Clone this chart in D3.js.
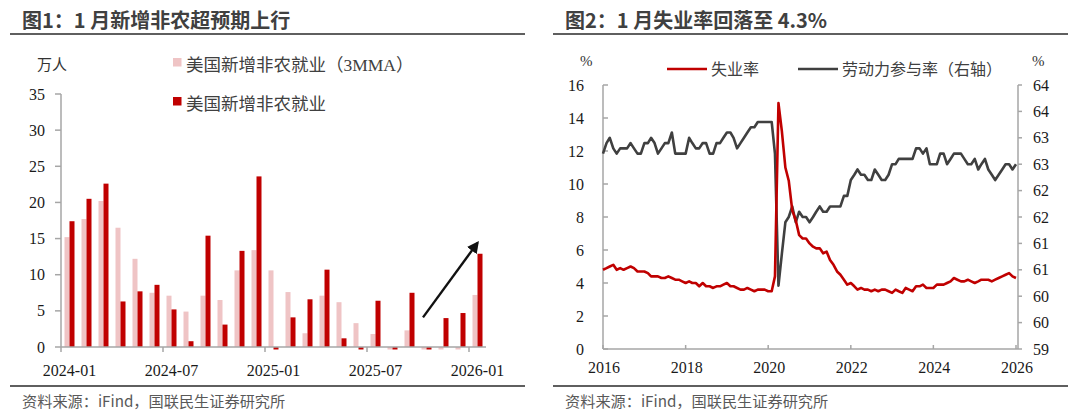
<!DOCTYPE html>
<html>
<head>
<meta charset="utf-8">
<script src="https://cdn.jsdelivr.net/npm/d3@7"></script>
<style>
  body { margin: 0; background: #fff; }
  svg text { font-family: "Liberation Serif", "Noto Sans CJK SC", serif; }
  .ttl { font-family: "Noto Sans CJK SC", sans-serif !important; font-weight: bold; font-size: 20px; fill: #404040; }
  .src { font-family: "Noto Sans CJK SC", sans-serif !important; font-size: 15.2px; fill: #595959; }
</style>
</head>
<body>
<svg id="chart" width="1080" height="417"></svg>
<script>
// ---- data: left chart (万人) ----
var months1 = ["2024-01","2024-02","2024-03","2024-04","2024-05","2024-06","2024-07","2024-08","2024-09","2024-10","2024-11","2024-12",
               "2025-01","2025-02","2025-03","2025-04","2025-05","2025-06","2025-07","2025-08","2025-09","2025-10","2025-11","2025-12","2026-01"];
var nfp    = [17.4,20.5,22.6,6.3,7.7,8.6,5.2,0.8,15.4,3.1,13.3,23.6,-4.9,4.1,6.6,10.7,1.2,-1.3,6.4,-7.0,7.5,-17.3,4.0,4.7,12.9];
var nfp3m  = [15.2,17.7,20.2,16.5,12.2,7.5,7.1,4.9,7.1,6.5,10.6,13.4,10.6,7.6,1.9,7.1,6.2,3.3,1.8,-0.6,2.3,-3.2,-1.9,-2.9,7.2];
var xLabels1 = ["2024-01","2024-07","2025-01","2025-07","2026-01"];
var yTicks1 = [0,5,10,15,20,25,30,35];

// ---- data: right chart (%) ----
var unrate = [
  4.8,4.9,5.0,5.1,4.8,4.9,4.8,4.9,5.0,4.9,4.7,4.7,
  4.7,4.6,4.4,4.4,4.4,4.3,4.3,4.4,4.3,4.2,4.2,4.1,
  4.0,4.1,4.0,4.0,3.8,4.0,3.8,3.8,3.7,3.8,3.8,3.9,
  4.0,3.8,3.8,3.7,3.6,3.6,3.7,3.6,3.5,3.6,3.6,3.6,
  3.5,3.5,4.4,14.9,13.2,11.0,10.2,8.4,7.8,6.9,6.7,6.7,
  6.4,6.2,6.1,6.1,5.8,5.9,5.4,5.1,4.7,4.5,4.2,3.9,
  4.0,3.8,3.6,3.7,3.6,3.6,3.5,3.6,3.5,3.6,3.6,3.5,
  3.4,3.6,3.5,3.4,3.7,3.6,3.5,3.8,3.8,3.9,3.7,3.7,
  3.7,3.9,3.9,3.9,4.0,4.1,4.3,4.2,4.1,4.1,4.2,4.1,
  4.0,4.1,4.2,4.2,4.2,4.1,4.2,4.3,4.4,4.5,4.6,4.4,
  4.3];
var lfpr = [
  62.7,62.9,63.0,62.8,62.7,62.8,62.8,62.8,62.9,62.8,62.7,62.7,
  62.9,62.9,63.0,62.9,62.7,62.8,62.9,62.9,63.1,62.7,62.7,62.7,
  62.7,63.0,62.9,62.8,62.8,62.9,62.9,62.7,62.7,62.9,62.9,63.0,
  63.1,63.1,63.0,62.8,62.9,63.0,63.1,63.2,63.2,63.3,63.3,63.3,
  63.3,63.3,62.7,60.2,60.8,61.4,61.5,61.7,61.4,61.6,61.5,61.5,
  61.4,61.5,61.6,61.7,61.6,61.6,61.7,61.7,61.7,61.7,61.9,61.9,
  62.2,62.3,62.4,62.3,62.3,62.2,62.2,62.4,62.3,62.2,62.2,62.3,
  62.5,62.5,62.6,62.6,62.6,62.6,62.6,62.8,62.8,62.7,62.8,62.5,
  62.5,62.5,62.7,62.7,62.5,62.6,62.7,62.7,62.7,62.6,62.5,62.5,
  62.6,62.4,62.5,62.6,62.4,62.3,62.2,62.3,62.4,62.5,62.5,62.4,
  62.5];
var yTicksL = [0,2,4,6,8,10,12,14,16];
var yTicksR = [59,59.5,60,60.5,61,61.5,62,62.5,63,63.5,64];
var xYears2 = [2016,2018,2020,2022,2024,2026];

var red = "#c00000", pink = "#efc4c5", axisGray = "#a6a6a6", lineGray = "#404040";
var svg = d3.select("svg#chart");

// headers + footers
function frame(x0, x1, title) {
  svg.append("text").attr("class","ttl").attr("x", x0 + 12).attr("y", 28).text(title);
  svg.append("line").attr("x1", x0).attr("x2", x1).attr("y1", 34).attr("y2", 34)
     .attr("stroke", "#5f5f5f").attr("stroke-width", 2.2);
  svg.append("line").attr("x1", x0).attr("x2", x1).attr("y1", 386).attr("y2", 386)
     .attr("stroke", "#5f5f5f").attr("stroke-width", 2.2);
  svg.append("text").attr("class","src").attr("x", x0 + 12).attr("y", 407).text("资料来源：iFind，国联民生证券研究所");
}
frame(10, 525, "图1：1 月新增非农超预期上行");
frame(553, 1068, "图2：1 月失业率回落至 4.3%");

// ================= left chart =================
var x1 = d3.scaleBand().domain(months1).range([61, 486]).paddingInner(0).paddingOuter(0);
var sub = d3.scaleBand().domain(["p","r"]).range([3.5, 13.5]);
var y1 = d3.scaleLinear().domain([0, 35]).range([347, 94]);

svg.append("clipPath").attr("id","clipL").append("rect")
   .attr("x", 61).attr("y", 94).attr("width", 425).attr("height", 347 - 94 + 2.5);

var gBars = svg.append("g").attr("clip-path","url(#clipL)");
function bars(vals, key, color) {
  gBars.selectAll("rect." + key).data(vals).enter().append("rect")
    .attr("class", key)
    .attr("x", (d, i) => x1(months1[i]) + sub(key))
    .attr("width", sub.bandwidth())
    .attr("y", d => y1(Math.max(d, 0)))
    .attr("height", d => Math.abs(y1(d) - y1(0)))
    .attr("fill", color);
}
bars(nfp3m, "p", pink);
bars(nfp, "r", red);

// axes
svg.append("line").attr("x1", 61).attr("x2", 61).attr("y1", y1(35)).attr("y2", y1(0)).attr("stroke", axisGray).attr("stroke-width", 1.5);
svg.append("line").attr("x1", 61).attr("x2", 486).attr("y1", y1(0)).attr("y2", y1(0)).attr("stroke", axisGray).attr("stroke-width", 1.5);
yTicks1.forEach(t => {
  svg.append("line").attr("x1", 55).attr("x2", 61).attr("y1", y1(t)).attr("y2", y1(t)).attr("stroke", axisGray).attr("stroke-width", 1.5);
  svg.append("text").attr("x", 45).attr("y", y1(t) + 5.5).attr("text-anchor","end")
     .attr("font-size", 16).attr("fill", "#1a1a1a").text(t);
});
xLabels1.forEach(m => {
  var xs = x1(m);
  svg.append("line").attr("x1", xs).attr("x2", xs).attr("y1", y1(0)).attr("y2", y1(0) + 5).attr("stroke", axisGray).attr("stroke-width", 1.5);
  svg.append("text").attr("x", xs + x1.bandwidth() / 2).attr("y", 376).attr("text-anchor","middle")
     .attr("font-size", 16).attr("fill", "#1a1a1a").text(m);
});
svg.append("text").attr("x", 37).attr("y", 70).attr("font-size", 15).attr("fill", "#333").text("万人");

// legend
[["美国新增非农就业（3MMA）", pink, 58], ["美国新增非农就业", red, 97]].forEach(l => {
  svg.append("rect").attr("x", 173).attr("y", l[2]).attr("width", 8.5).attr("height", 8.5).attr("fill", l[1]);
  svg.append("text").attr("x", 186).attr("y", l[2] + 13).attr("font-size", 17.5).attr("fill", "#404040").text(l[0]);
});

// arrow
svg.append("defs").append("marker").attr("id","arr").attr("viewBox","0 0 10 10")
   .attr("refX", 8).attr("refY", 5).attr("markerWidth", 5).attr("markerHeight", 5).attr("orient","auto")
   .append("path").attr("d","M0,0 L10,5 L0,10 z").attr("fill","#111");
svg.append("line")
   .attr("x1", x1("2025-10") + 5).attr("y1", y1(4.1))
   .attr("x2", x1("2026-01") + x1.bandwidth() / 2).attr("y2", y1(14.4))
   .attr("stroke", "#111").attr("stroke-width", 2.4).attr("marker-end","url(#arr)");

// ================= right chart =================
var dates = d3.timeMonth.range(new Date(2016, 0, 1), new Date(2026, 1, 1));
var x2 = d3.scaleTime().domain([new Date(2016, 0, 1), new Date(2026, 0, 1)]).range([603, 1016]);
var yL = d3.scaleLinear().domain([0, 16]).range([349, 85]);
var yR = d3.scaleLinear().domain([59, 64]).range([349, 85]);

svg.append("line").attr("x1", 603).attr("x2", 603).attr("y1", 85).attr("y2", 349).attr("stroke", axisGray).attr("stroke-width", 1.5);
svg.append("line").attr("x1", 1018).attr("x2", 1018).attr("y1", 85).attr("y2", 349).attr("stroke", axisGray).attr("stroke-width", 1.5);
svg.append("line").attr("x1", 603).attr("x2", 1018).attr("y1", 349).attr("y2", 349).attr("stroke", axisGray).attr("stroke-width", 1.5);

yTicksL.forEach(t => {
  svg.append("line").attr("x1", 603).attr("x2", 608).attr("y1", yL(t)).attr("y2", yL(t)).attr("stroke", axisGray).attr("stroke-width", 1.5);
  svg.append("text").attr("x", 584).attr("y", yL(t) + 5.5).attr("text-anchor","end")
     .attr("font-size", 16).attr("fill", "#1a1a1a").text(t);
});
var fmtR = d3.format(".0f");
yTicksR.forEach(t => {
  svg.append("line").attr("x1", 1018).attr("x2", 1022).attr("y1", yR(t)).attr("y2", yR(t)).attr("stroke", axisGray).attr("stroke-width", 1.5);
  svg.append("text").attr("x", 1033).attr("y", yR(t) + 5.5).attr("text-anchor","start")
     .attr("font-size", 16).attr("fill", "#1a1a1a").text(fmtR(t));
});
xYears2.forEach(yr => {
  var xs = x2(new Date(yr, 0, 1));
  svg.append("line").attr("x1", xs).attr("x2", xs).attr("y1", 349).attr("y2", 345).attr("stroke", axisGray).attr("stroke-width", 1.5);
  svg.append("text").attr("x", xs + 1).attr("y", 373).attr("text-anchor","middle")
     .attr("font-size", 16).attr("fill", "#1a1a1a").text(yr);
});
svg.append("text").attr("x", 580).attr("y", 66).attr("font-size", 15).attr("fill", "#333").text("%");
svg.append("text").attr("x", 1032).attr("y", 66).attr("font-size", 15).attr("fill", "#333").text("%");

var lineL = d3.line().x((d, i) => x2(dates[i])).y(d => yL(d));
var lineR = d3.line().x((d, i) => x2(dates[i])).y(d => yR(d));
svg.append("path").datum(lfpr).attr("d", lineR).attr("fill","none").attr("stroke", lineGray).attr("stroke-width", 2.6).attr("stroke-linejoin","round");
svg.append("path").datum(unrate).attr("d", lineL).attr("fill","none").attr("stroke", red).attr("stroke-width", 2.6).attr("stroke-linejoin","round");

// legend
[["失业率", red, 667, 711], ["劳动力参与率（右轴）", lineGray, 798, 842]].forEach(l => {
  svg.append("line").attr("x1", l[2]).attr("x2", l[2] + 40).attr("y1", 69).attr("y2", 69).attr("stroke", l[1]).attr("stroke-width", 2.6);
  svg.append("text").attr("x", l[3]).attr("y", 75).attr("font-size", 16).attr("fill", "#404040").text(l[0]);
});
</script>
</body>
</html>
